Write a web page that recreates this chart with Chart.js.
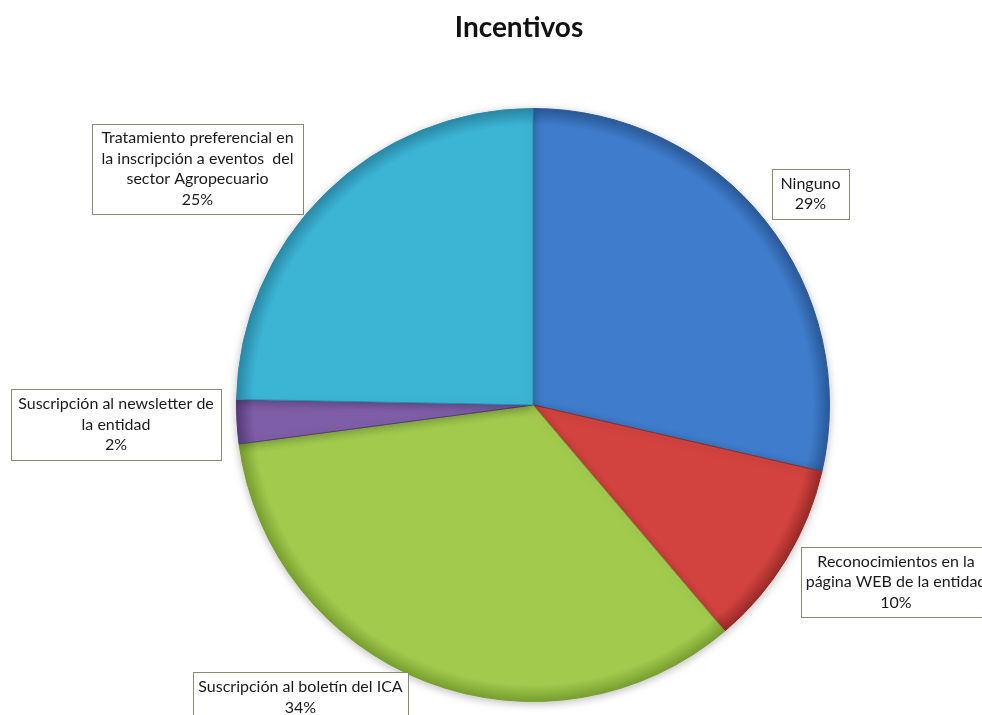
<!DOCTYPE html>
<html>
<head>
<meta charset="utf-8">
<script src="https://cdn.jsdelivr.net/npm/chart.js@4"></script>
<style>
  html, body { margin: 0; padding: 0; background: #ffffff; }
  #wrap { position: relative; width: 982px; height: 715px; overflow: hidden; }
  canvas { display: block; }
</style>
</head>
<body>
<div id="wrap"><canvas id="c" width="982" height="715"></canvas></div>
<script>
// ---- Data ----
const chartTitle = "Incentivos";
const categories = [
  "Ninguno",
  "Reconocimientos en la página WEB de la entidad",
  "Suscripción al boletín del ICA",
  "Suscripción al newsletter de la entidad",
  "Tratamiento preferencial en la inscripción a eventos  del sector Agropecuario"
];
const labelLines = [
  ["Ninguno"],
  ["Reconocimientos en la", "página WEB de la entidad"],
  ["Suscripción al boletín del ICA"],
  ["Suscripción al newsletter de", "la entidad"],
  ["Tratamiento preferencial en", "la inscripción a eventos  del", "sector Agropecuario"]
];
const percentValues = [28.6, 10.2, 34.1, 2.4, 24.7];

// ---- Styles ----
const sliceColors = ["#3f7dcc", "#d2433f", "#a2cb4e", "#7f5ea8", "#3cb5d5"];
const sliceBorders = ["#2a5a9a", "#9a2a28", "#78a030", "#553c7a", "#2a8aa8"];
// label box geometry (box left, top, width, height)
const labelBoxes = [
  [772, 169, 77, 50],
  [801, 547, 190, 70],
  [193, 672, 215, 60],
  [11, 389, 210, 71],
  [92, 124, 211, 90]
];
const labelFont = "16px Lato, 'Open Sans', sans-serif";
const lineGap = 20.5;

const labelPlugin = {
  id: 'boxLabels',
  afterDraw(chart) {
    const ctx = chart.ctx;
    const data = chart.data.datasets[0].data;
    ctx.save();
    ctx.font = labelFont;
    ctx.textAlign = 'center';
    ctx.textBaseline = 'middle';
    data.forEach((v, i) => {
      const [x, y, w, h] = labelBoxes[i];
      ctx.fillStyle = '#ffffff';
      ctx.fillRect(x, y, w, h);
      ctx.strokeStyle = '#8a8a70';
      ctx.lineWidth = 1;
      ctx.strokeRect(x + 0.5, y + 0.5, w, h);
      const lines = labelLines[i].concat([Math.round(v) + "%"]);
      const cx = x + w / 2;
      const total = (lines.length - 1) * lineGap;
      let cy = y + h / 2 - total / 2;
      if (i === 2) cy = y + 15;
      ctx.fillStyle = '#1a1a1a';
      lines.forEach((ln, k) => ctx.fillText(ln, cx, cy + k * lineGap));
    });
    // title
    ctx.font = "bold 28px Lato, 'Open Sans', sans-serif";
    ctx.fillStyle = '#111111';
    ctx.fillText(chartTitle, 519, 28);
    ctx.restore();
  }
};

const shadowPlugin = {
  id: 'pieShadow',
  beforeDatasetsDraw(chart) {
    const ctx = chart.ctx;
    ctx.save();
    ctx.shadowColor = 'rgba(0,0,0,0.25)';
    ctx.shadowBlur = 8;
    ctx.shadowOffsetX = 0;
    ctx.shadowOffsetY = 2;
  },
  afterDatasetsDraw(chart) {
    chart.ctx.restore();
  }
};

new Chart(document.getElementById('c'), {
  type: 'pie',
  data: {
    labels: categories,
    datasets: [{
      data: percentValues,
      backgroundColor: (c) => {
        const chart = c.chart;
        const area = chart.chartArea;
        const i = c.dataIndex;
        if (!area) return sliceColors[i];
        const cx = (area.left + area.right) / 2, cy = (area.top + area.bottom) / 2;
        const r = Math.min(area.right - area.left, area.bottom - area.top) / 2;
        const g = chart.ctx.createRadialGradient(cx, cy, 0, cx, cy, r);
        g.addColorStop(0, sliceColors[i]);
        g.addColorStop(0.94, sliceColors[i]);
        g.addColorStop(1, sliceBorders[i]);
        return g;
      },
      borderColor: sliceBorders,
      borderWidth: 1
    }]
  },
  options: {
    responsive: false,
    animation: false,
    layout: { padding: { top: 108, bottom: 13, left: 236, right: 152 } },
    plugins: {
      legend: { display: false },
      title: { display: false },
      tooltip: { enabled: false }
    }
  },
  plugins: [shadowPlugin, labelPlugin]
});
</script>
</body>
</html>
